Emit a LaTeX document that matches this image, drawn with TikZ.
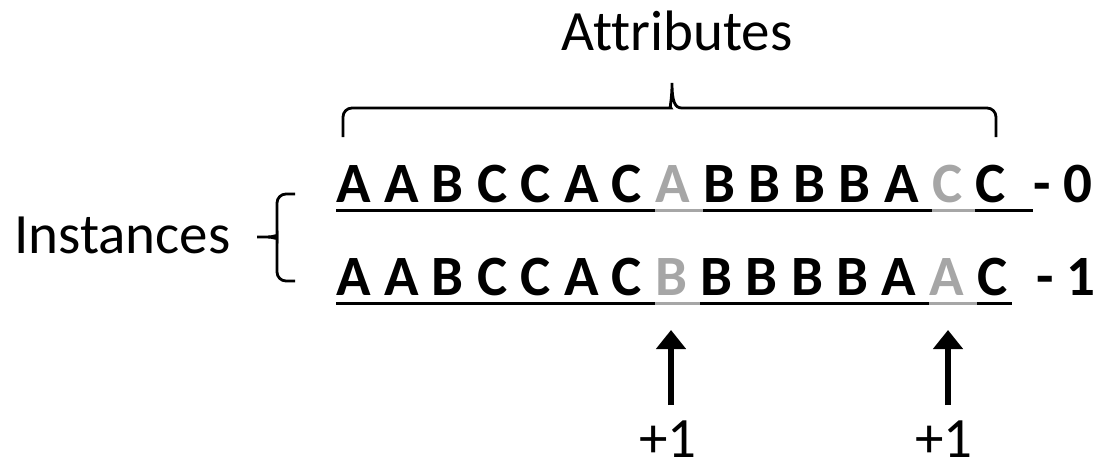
\documentclass[tikz,border=0pt]{standalone}
\usepackage{fontspec}
\setmainfont{Carlito}[Ligatures={NoCommon,NoDiscretionary}]
\usetikzlibrary{arrows.meta,calc}
\definecolor{lgray}{HTML}{A6A6A6}
\tikzset{
  lbl/.style={inner sep=0pt, text depth=0pt, font=\fontsize{57}{68}\selectfont},
  letter/.style={anchor=base west, inner sep=0pt, font=\bfseries\fontsize{57}{68}\selectfont},
  uline/.style={line width=3pt},
  brace/.style={line width=2.8pt, rounded corners=9pt},
  uparrow/.style={line width=6pt, -{Triangle[length=19pt,width=29pt]}}
}
\begin{document}
\begin{tikzpicture}[x=1pt,y=-1pt]
\useasboundingbox (0,0) rectangle (1110,472);
% top label and brace
\node[lbl, anchor=base] (attr) at (677,50) {Attributes};
\draw[brace] (343,137) -- (343,108) -- (662,108) [sharp corners] .. controls (669,108) and (672,102) .. (672,83)
   .. controls (672,102) and (675,108) .. (682,108) [rounded corners=9pt] -- (996,108) -- (996,137);
% left label and brace
\node[lbl, anchor=base west] (inst) at (14,253) {Instances};
\draw[brace] (295,194) -- (277,194) -- (277,228) [sharp corners] .. controls (277,234) and (274,237) .. (268,237) -- (257,237);
\draw[brace] (295,281) -- (277,281) -- (277,246) [sharp corners] .. controls (277,240) and (274,237) .. (268,237);
% row 1
\def\spw{12.9}
\foreach \l/\c [count=\i] in {A/black,A/black,B/black,C/black,C/black,A/black,C/black,A/lgray,B/black,B/black,B/black,B/black,A/black,C/lgray,C/black}{
  \ifnum\i=1
    \node[letter,text=\c] (a\i) at (336,202) {\l};
  \else
    \pgfmathtruncatemacro\j{\i-1}
    \node[letter,text=\c] (a\i) at ($(a\j.base east)+(\spw,0)$) {\l};
  \fi
  \ifnum\i<15
    \draw[uline,draw=\c] ($(a\i.base west)+(0,8)$) -- ($(a\i.base east)+(\spw,8)$);
  \fi
}
\coordinate (e1) at (1033,210);
\draw[uline] ($(a15.base west)+(0,8)$) -- (e1);
\node[letter] (s1) at (1033,202) {- 0};
% row 2
\foreach \l/\c [count=\i] in {A/black,A/black,B/black,C/black,C/black,A/black,C/black,B/lgray,B/black,B/black,B/black,B/black,A/black,A/lgray,C/black}{
  \ifnum\i=1
    \node[letter,text=\c] (b\i) at (336,295) {\l};
  \else
    \pgfmathtruncatemacro\j{\i-1}
    \node[letter,text=\c] (b\i) at ($(b\j.base east)+(\spw,0)$) {\l};
  \fi
  \ifnum\i<15
    \draw[uline,draw=\c] ($(b\i.base west)+(0,8)$) -- ($(b\i.base east)+(\spw,8)$);
  \fi
}
\coordinate (e2) at (1012,303);
\draw[uline] ($(b15.base west)+(0,8)$) -- (e2);
\node[letter] (s2) at (1036,295) {- 1};
% arrows and +1 labels
\node[lbl, anchor=base] (p1) at (668,457) {+1};
\node[lbl, anchor=base] (p2) at (944,457) {+1};
\coordinate (t1) at (671,330);
\coordinate (t2) at (948,330);
\draw[uparrow] ($(p1.north -| t1)+(0,-15)$) -- (t1);
\draw[uparrow] ($(p2.north -| t2)+(0,-15)$) -- (t2);
\end{tikzpicture}
\end{document}
